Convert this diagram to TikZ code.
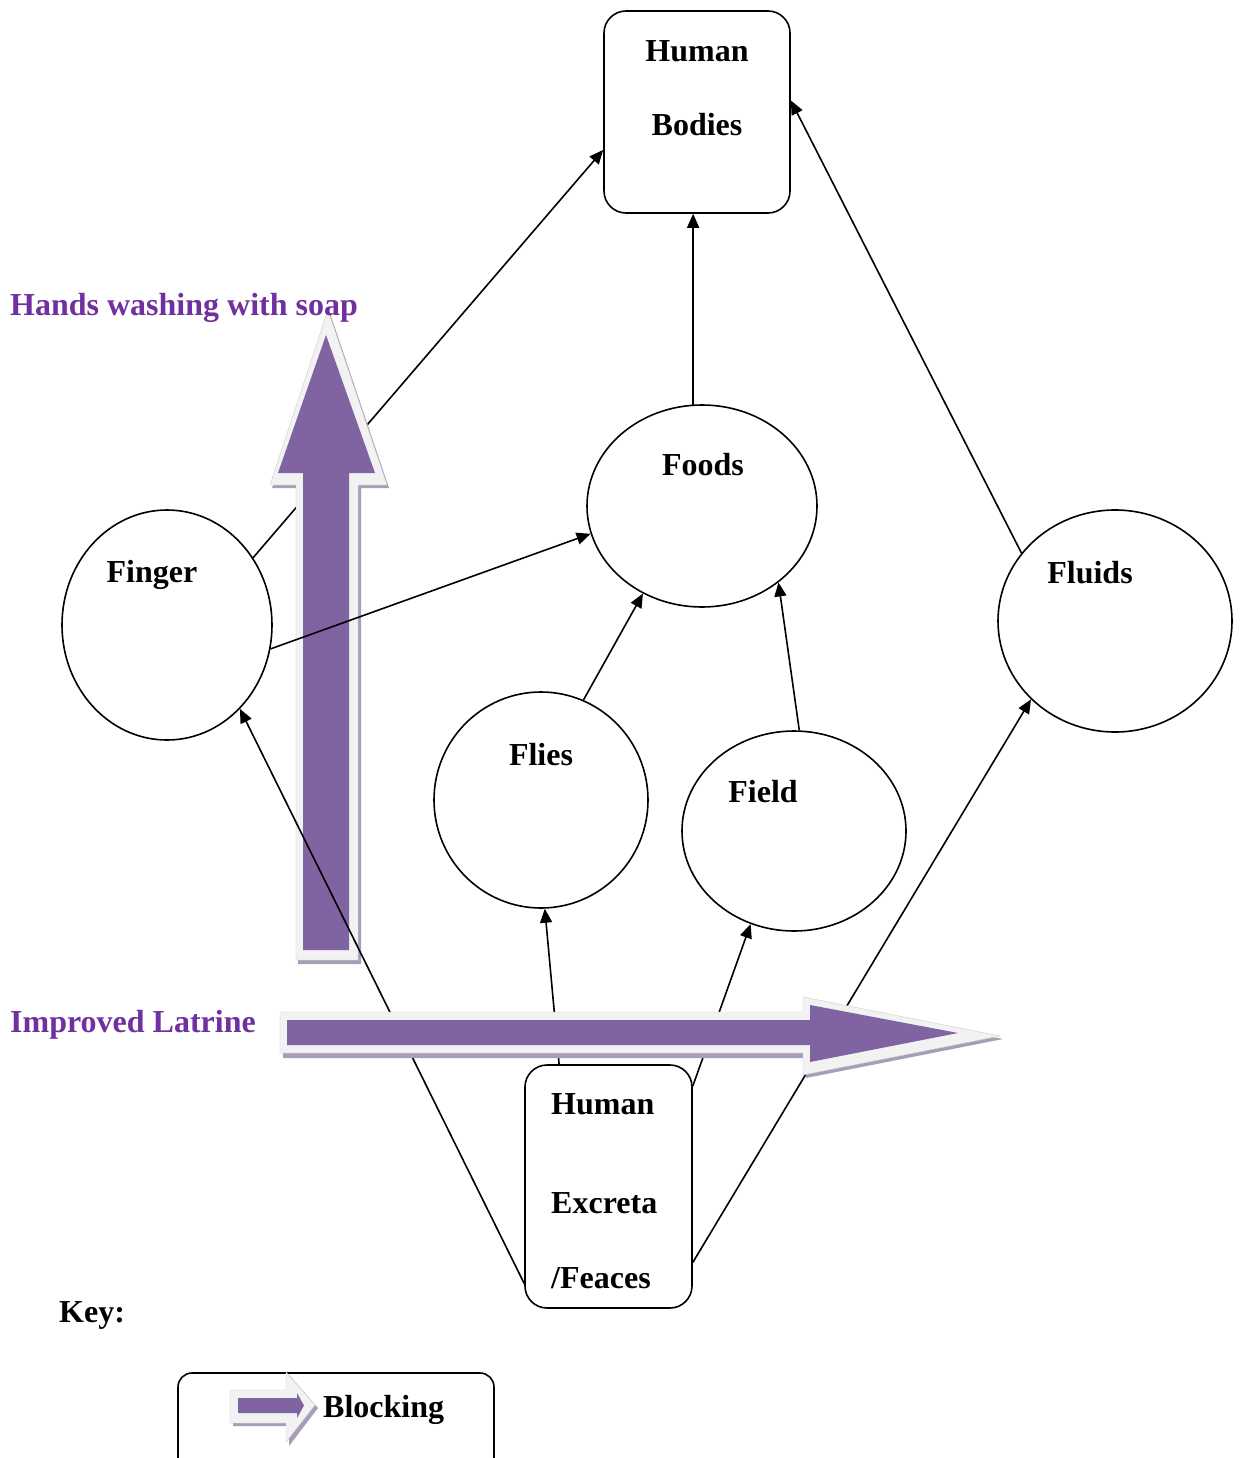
\documentclass[tikz,border=0pt]{standalone}
\usepackage{fontspec}
\setmainfont{Liberation Serif}
\usetikzlibrary{arrows.meta,shapes.geometric}
\definecolor{labpurple}{HTML}{7030A0}
\definecolor{arrpurple}{HTML}{8064A2}
\definecolor{arrrim}{HTML}{F2F2F2}
\definecolor{arrshadow}{HTML}{A89DB6}
\begin{document}
\begin{tikzpicture}[x=1pt,y=-1pt,
  txt/.style={font=\fontsize{32}{38}\selectfont\bfseries, inner sep=0pt, yshift=-3pt},
  lab/.style={txt, text=labpurple, anchor=west},
  oval/.style={draw, line width=1.6pt, ellipse, inner sep=0pt},
  rbox/.style={draw, line width=1.6pt, rectangle, rounded corners=22pt, inner sep=0pt},
  link/.style={line width=1.6pt, -{Triangle[length=14pt,width=12pt]}},
  rim/.style={fill=arrrim, draw=black!20, line width=0.4pt},
  body/.style={fill=arrpurple},
  shade/.style={fill=arrshadow}
]
\clip (0,0) rectangle (1241,1458);
\fill[white] (0,0) rectangle (1241,1458);

% nodes
\node[rbox, minimum width=186pt, minimum height=202pt] (hb) at (697,112) {};
\node[txt] (hbt1) at (697,48) {Human};
\node[txt] (hbt2) at (697,122) {Bodies};

\node[oval, minimum width=230pt, minimum height=202pt] (foods) at (702,506) {};
\node[txt] (foodst) at (703,462) {Foods};

\node[oval, minimum width=210pt, minimum height=230pt] (finger) at (167,625) {};
\node[txt] (fingert) at (152,572) {Finger};

\node[oval, minimum width=234pt, minimum height=222pt] (fluids) at (1115,621) {};
\node[txt] (fluidst) at (1090,570) {Fluids};

\node[oval, minimum width=214pt, minimum height=216pt] (flies) at (541,800) {};
\node[txt] (fliest) at (541,752) {Flies};

\node[oval, minimum width=224pt, minimum height=200pt] (field) at (794,831) {};
\node[txt] (fieldt) at (763,789) {Field};

\node[rbox, minimum width=167pt, minimum height=243pt] (hx) at (608.5,1186.5) {};
\node[txt, anchor=west] (hxt1) at (551,1101) {Human};
\node[txt, anchor=west] (hxt2) at (551,1200) {Excreta};
\node[txt, anchor=west] (hxt3) at (551,1275) {/Feaces};

% connectors hidden by the arrows
\draw[link] (finger.38) -- (hb.202.4);
\draw[link] (foods.95.7) -- (foods.95.7 |- hb.south);
\draw[link] (fluids.144) -- (hb.7.2);
\draw[link] (flies.67.9) -- (foods.236.3);
\draw[link] (field.87.7) -- (foods.-45);
\draw[link] (hx.112.97) -- (flies.-88);
\draw[link] (hx.50.6) -- (field.245.2);
\draw[link] (hx.-42.1) -- (fluids.223);

% vertical blocking arrow (hand washing)
\path[shade] (298,488) -- (272,488) -- (330,313) -- (389,488) -- (361,488) -- (361,964) -- (298,964) -- cycle;
\path[rim] (296,960) -- (296,485) -- (270,485) -- (328,310) -- (387,485) -- (358,485) -- (358,960) -- cycle;
\path[body] (303,950) -- (303,473) -- (278,473) -- (326,335) -- (375,473) -- (349,473) -- (349,950) -- cycle;

% connectors drawn over the vertical arrow
\draw[link] (finger.-13.4) -- (foods.194);
\draw[link] (hx.229.7) -- (finger.-49.6);

% horizontal blocking arrow (latrine)
\path[shade] (283,1016) -- (806,1016) -- (806,1001) -- (1003,1039) -- (806,1078) -- (806,1058) -- (283,1058) -- cycle;
\path[rim] (280,1012) -- (803,1012) -- (803,997) -- (1000,1036) -- (803,1075) -- (803,1053) -- (280,1053) -- cycle;
\path[body] (287,1020) -- (810,1020) -- (810,1005) -- (958,1033) -- (810,1062) -- (810,1045) -- (287,1045) -- cycle;

% labels
\node[lab] (handlab) at (10,305) {Hands washing with soap};
\node[lab] (latlab) at (10,1022) {Improved Latrine};

% key
\node[txt, anchor=west] (key) at (59,1312) {Key:};
\node[rbox, rounded corners=14pt, minimum width=316pt, minimum height=130pt] (keybox) at (336,1438) {};
\path[shade] (233,1393) -- (289,1393) -- (289,1375) -- (318,1408) -- (289,1446) -- (289,1426) -- (233,1426) -- cycle;
\path[rim] (230,1390) -- (286,1390) -- (286,1372) -- (315,1405) -- (286,1442) -- (286,1423) -- (230,1423) -- cycle;
\path[body] (238,1398) -- (297,1398) -- (297,1393) -- (304,1405.5) -- (297,1418) -- (297,1413) -- (238,1413) -- cycle;
\node[txt, anchor=west] (keyt) at (323,1407) {Blocking};
\end{tikzpicture}
\end{document}
